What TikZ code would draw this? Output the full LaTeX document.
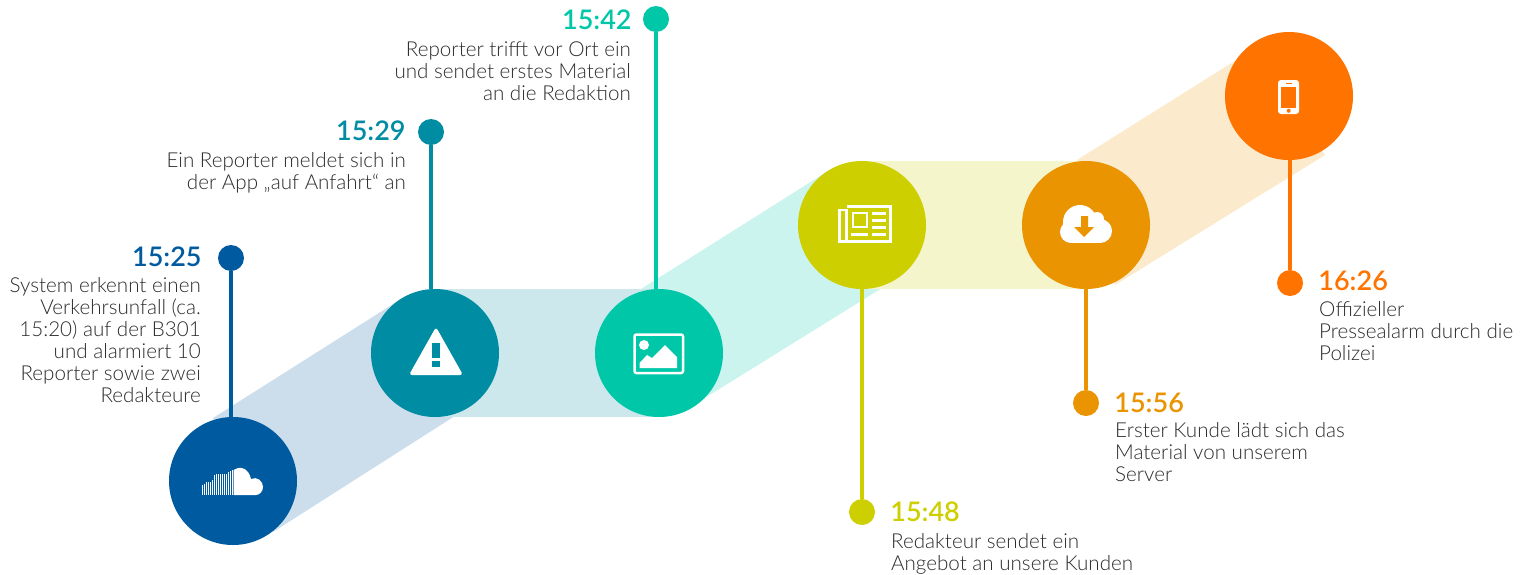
\documentclass[tikz,border=0pt]{standalone}
\usepackage{fontspec}
\setmainfont{Lato Light}[BoldFont=Lato Semibold]
\usetikzlibrary{positioning}

\definecolor{cBlue}{HTML}{005A9F}
\definecolor{cTeal}{HTML}{008CA3}
\definecolor{cMint}{HTML}{00C7A8}
\definecolor{cLime}{HTML}{CECF00}
\definecolor{cAmber}{HTML}{E99400}
\definecolor{cOrange}{HTML}{FF7300}
\definecolor{cText}{HTML}{2B2B2B}

\tikzset{
  circ/.style={circle, minimum size=128pt, inner sep=0pt, fill=#1},
  dot/.style={circle, minimum size=26pt, inner sep=0pt, fill=#1},
  stem/.style={line width=4pt, #1},
  clock/.style={inner sep=0pt, text=#1, font=\fontsize{27}{27}\selectfont\bfseries},
  info/.style={inner sep=0pt, text=cText, font=\fontsize{20.6}{22}\selectfont},
  band/.style={fill=#1, draw=none},
}

\begin{document}
\begin{tikzpicture}[x=1pt, y=-1pt]
\useasboundingbox (0,0) rectangle (1526,574);

% bands
\path[band=cBlue!20] (213,418) -- (401,299) -- (469,407) -- (273,532) -- cycle;
\path[band=cMint!20] (625,299) -- (828,171) -- (886,285.5) -- (692,406) -- cycle;
\path[band=cAmber!20] (1077,160) -- (1257,47) -- (1325,155) -- (1115,285) -- cycle;
\path[band=cTeal!20] (435,289) rectangle (659,417);
\path[band=cLime!20] (862,161) rectangle (1086,289);

% circles
\node[circ=cBlue] (c1) at (233,481) {};
\node[circ=cTeal] (c2) at (435,353) {};
\node[circ=cMint] (c3) at (659,353) {};
\node[circ=cLime] (c4) at (862,225) {};
\node[circ=cAmber] (c5) at (1086,225) {};
\node[circ=cOrange] (c6) at (1289,96) {};

% dots
\node[dot=cBlue] (d1) at (231,258) {};
\node[dot=cTeal] (d2) at (431,132) {};
\node[dot=cMint] (d3) at (656,19) {};
\node[dot=cLime] (d4) at (862,512) {};
\node[dot=cAmber] (d5) at (1086,403) {};
\node[dot=cOrange] (d6) at (1290,283) {};

\draw[stem=cBlue] (d1) -- (d1 |- c1.north);
\draw[stem=cTeal] (d2) -- (d2 |- c2.north);
\draw[stem=cMint] (d3) -- (d3 |- c3.north);
\draw[stem=cLime] (d4) -- (d4 |- c4.south);
\draw[stem=cAmber] (d5) -- (d5 |- c5.south);
\draw[stem=cOrange] (d6) -- (d6 |- c6.south);

% times
\node[clock=cBlue, left=16pt of d1, yshift=1pt] (t1) {15:25};
\node[clock=cTeal, left=12pt of d2, yshift=1pt] (t2) {15:29};
\node[clock=cMint, left=11pt of d3, yshift=-1pt] (t3) {15:42};
\node[clock=cLime, right=15pt of d4] (t4) {15:48};
\node[clock=cAmber, right=15pt of d5] (t5) {15:56};
\node[clock=cOrange, right=15pt of d6, yshift=2pt] (t6) {16:26};

% texts
\node[info, align=right, anchor=north east] (x1) at (201,277.5) {System erkennt einen\\Verkehrsunfall (ca.\\15:20) auf der B301\\und alarmiert 10\\Reporter sowie zwei\\Redakteure};
\node[info, align=right, anchor=north east] (x2) at (406,152) {Ein Reporter meldet sich in\\der App „auf Anfahrt“ an};
\node[info, align=right, anchor=north east] (x3) at (631,42) {Reporter trifft vor Ort ein\\und sendet erstes Material\\an die Redaktion};
\node[info, align=left, anchor=north west] (x4) at (891,533) {Redakteur sendet ein\\Angebot an unsere Kunden};
\node[info, align=left, anchor=north west] (x5) at (1115,422) {Erster Kunde lädt sich das\\Material von unserem\\Server};
\node[info, align=left, anchor=north west] (x6) at (1319,301) {Offizieller\\Pressealarm durch die\\Polizei};

% icon c1
\foreach \bx/\by in {202/485,204/484,206/482,208/482,210/482,212/480,214/475,216/474,218/474,220/474,222/474,224/474,226/474,228/472,230/471,232/470}
  \fill[white] (\bx,\by) rectangle (\bx+1.4,495);
\fill[white] (233.5,495) -- (233.5,470) .. controls (236,468) and (240,467.5) .. (242,468) .. controls (247,469) and (250,474) .. (251,479) .. controls (257,476) and (263,481) .. (263,487) .. controls (263,492) and (259,495) .. (256,495) -- cycle;

% icon c2
\fill[white, rounded corners=3pt] (436,327) -- (463,375) -- (409,375) -- cycle;
\fill[cTeal] (432,343) rectangle (440,358);
\fill[cTeal] (432,361) rectangle (440,367);

% icon c3
\draw[white, line width=2.5pt, rounded corners=2pt] (634.5,334.5) rectangle (683,373);
\fill[white] (644,345) circle (5);
\fill[white] (639.5,368) -- (639.5,363) -- (647,355) -- (652,358) -- (665,345) -- (677,357) -- (677,368) -- cycle;

% icon c4
\draw[white, line width=2.7pt] (846.5,206.5) -- (890.5,206.5) -- (890.5,241.5) -- (839.5,241.5) -- (839.5,210) -- (846.5,210) -- (846.5,241.5);
\draw[white, line width=2.7pt] (853,213) rectangle (867,227);
\fill[white] (872,212) rectangle (886,215);
\fill[white] (872,219) rectangle (886,222);
\fill[white] (872,226) rectangle (886,229);
\fill[white] (851,233) rectangle (868,236);
\fill[white] (872,233) rectangle (886,236);

% icon c5
\fill[white] (1080,222) circle (17);
\fill[white] (1097,219) circle (7);
\fill[white] (1100,231) circle (12);
\fill[white] (1071,232) circle (11);
\fill[white] (1071,225) rectangle (1100,243);
\fill[cAmber] (1081,216) -- (1088,216) -- (1088,227) -- (1094,227) -- (1084,237) -- (1074,227) -- (1081,227) -- cycle;

% icon c6
\fill[white] (1278,80) [rounded corners=3pt] rectangle (1299,114);
\fill[cOrange] (1281,87) rectangle (1296,108);
\fill[cOrange] (1288.7,110.8) circle (2);
\fill[cOrange] (1286,82.5) rectangle (1291.5,83.5);
\end{tikzpicture}
\end{document}
